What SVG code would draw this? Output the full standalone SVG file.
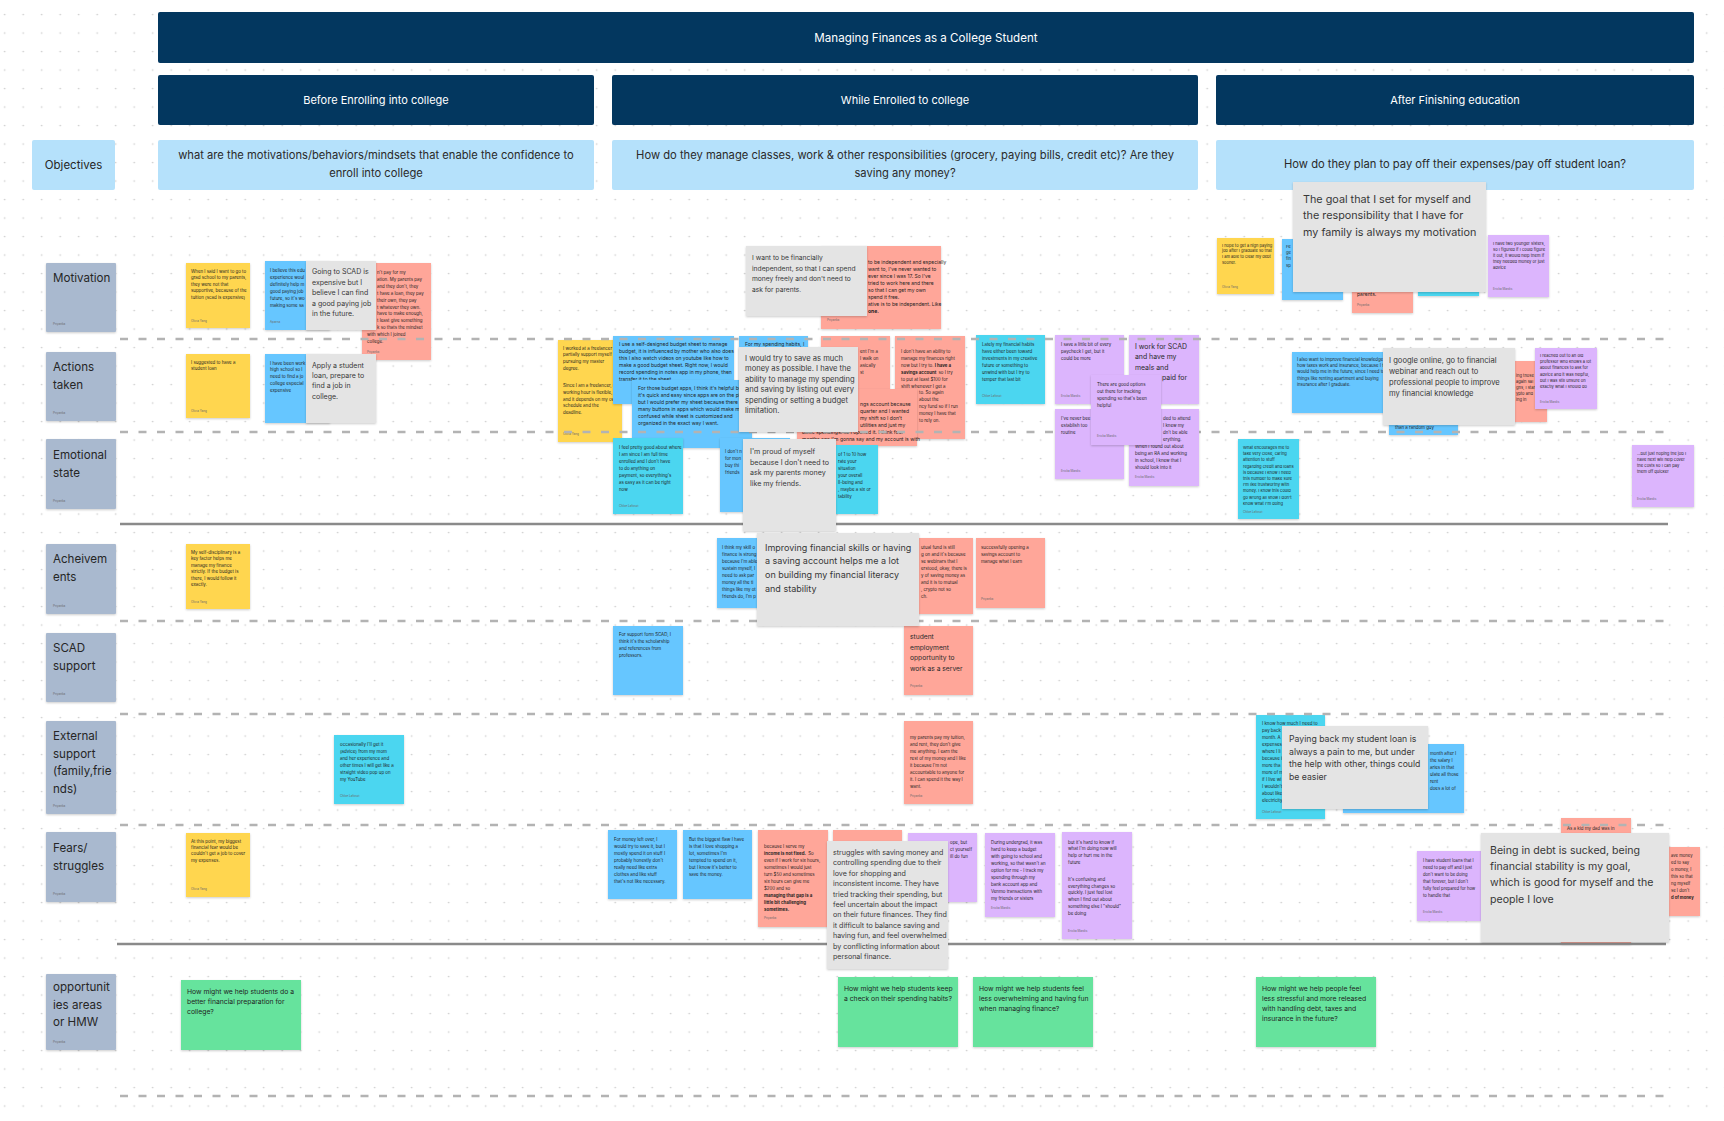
<svg xmlns="http://www.w3.org/2000/svg" width="1724" height="1121" viewBox="0 0 1724 1121">
<defs>
<pattern id="dots" x="-4.55" y="5.25" width="18.5" height="18.5" patternUnits="userSpaceOnUse"><circle cx="9.25" cy="9.25" r="0.85" fill="#cdcdcd"/></pattern>
<filter id="sh" x="-10%" y="-10%" width="120%" height="125%"><feDropShadow dx="0" dy="1" stdDeviation="0.9" flood-color="#000" flood-opacity="0.2"/></filter>
</defs>
<style>
text{font-family:Inter,"Noto Sans",sans-serif}
.nv{fill:#03375f}
.ob{fill:#b5e1fb}
.lb{fill:#a9b9cf}
.st{filter:url(#sh)}
.y{fill:#ffd64f}
.b{fill:#66c6ff}
.c{fill:#4bd6f0}
.r{fill:#ffa699}
.p{fill:#dcb5fd}
.gn{fill:#66e39d}
.gr{fill:#e4e4e4}
.wt{fill:#fff;font-size:11px;text-anchor:middle}
.obt{fill:#2a2a2a;font-size:11.2px;text-anchor:middle}
.lt{fill:#262626;font-size:11.6px}
.s{fill:#1f1f1f;font-size:4.4px}
.m{fill:#1f1f1f;font-size:5px}
.h{fill:#1f1f1f;font-size:6.8px}
.au{fill:#6b6b6b;font-size:3px}
.g{fill:#383838}
.bd{font-weight:700}
.dash{stroke:#b3b3b3;stroke-width:2.3;stroke-dasharray:8 10.5;fill:none}
.sol{stroke:#8a8a8a;stroke-width:2.4;fill:none}
</style>
<rect width="1724" height="1121" fill="#fff"/>
<rect width="1724" height="1121" fill="url(#dots)"/>

<g id="title"><rect class="nv" x="158" y="12" width="1536" height="51" rx="2"/><text class="wt" x="926" y="41.5" style="font-size:11.6px">Managing Finances as a College Student</text></g>
<g id="phase-before"><rect class="nv" x="158" y="75" width="436" height="50" rx="2"/><text class="wt" x="376" y="104">Before Enrolling into college</text></g>
<g id="phase-while"><rect class="nv" x="612" y="75" width="586" height="50" rx="2"/><text class="wt" x="905" y="104">While Enrolled to college</text></g>
<g id="phase-after"><rect class="nv" x="1216" y="75" width="478" height="50" rx="2"/><text class="wt" x="1455" y="104">After Finishing education</text></g>

<g id="obj-label"><rect class="ob" x="32" y="140" width="83" height="50" rx="2"/><text class="lt" x="73.5" y="169" text-anchor="middle" style="font-size:11.5px">Objectives</text></g>
<g id="obj-before"><rect class="ob" x="158" y="140" width="436" height="50" rx="2"/><text class="obt"><tspan x="376" y="158.5">what are the motivations/behaviors/mindsets that enable the confidence to</tspan><tspan x="376" y="177">enroll into college</tspan></text></g>
<g id="obj-while"><rect class="ob" x="612" y="140" width="586" height="50" rx="2"/><text class="obt"><tspan x="905" y="158.5">How do they manage classes, work &amp; other responsibilities (grocery, paying bills, credit etc)? Are they</tspan><tspan x="905" y="177">saving any money?</tspan></text></g>
<g id="obj-after"><rect class="ob" x="1216" y="140" width="478" height="50" rx="2"/><text class="obt" x="1455" y="168">How do they plan to pay off their expenses/pay off student loan?</text></g>

<g id="row-motivation"><rect class="lb st" x="46" y="263" width="70" height="69" rx="1"/><text class="lt" x="53" y="282">Motivation</text><text class="au" x="53" y="325">Priyanka</text></g>
<g id="row-actions"><rect class="lb st" x="46" y="352" width="70" height="69" rx="1"/><text class="lt"><tspan x="53" y="371">Actions</tspan><tspan x="53" y="388.5">taken</tspan></text><text class="au" x="53" y="414">Priyanka</text></g>
<g id="row-emotional"><rect class="lb st" x="46" y="439" width="70" height="70" rx="1"/><text class="lt"><tspan x="53" y="459">Emotional</tspan><tspan x="53" y="476.5">state</tspan></text><text class="au" x="53" y="502">Priyanka</text></g>
<g id="row-achievements"><rect class="lb st" x="46" y="544" width="70" height="70" rx="1"/><text class="lt"><tspan x="53" y="563">Acheivem</tspan><tspan x="53" y="580.5">ents</tspan></text><text class="au" x="53" y="607">Priyanka</text></g>
<g id="row-scad"><rect class="lb st" x="46" y="633" width="70" height="69" rx="1"/><text class="lt"><tspan x="53" y="652">SCAD</tspan><tspan x="53" y="669.5">support</tspan></text><text class="au" x="53" y="695">Priyanka</text></g>
<g id="row-external"><rect class="lb st" x="46" y="721" width="70" height="93" rx="1"/><text class="lt"><tspan x="53" y="740">External</tspan><tspan x="53" y="757.5">support</tspan><tspan x="53" y="775">(family,frie</tspan><tspan x="53" y="792.5">nds)</tspan></text><text class="au" x="53" y="807">Priyanka</text></g>
<g id="row-fears"><rect class="lb st" x="46" y="832" width="70" height="70" rx="1"/><text class="lt"><tspan x="53" y="852">Fears/</tspan><tspan x="53" y="869.5">struggles</tspan></text><text class="au" x="53" y="895">Priyanka</text></g>
<g id="row-opportunities"><rect class="lb st" x="46" y="974" width="70" height="76" rx="1"/><text class="lt"><tspan x="53" y="991">opportunit</tspan><tspan x="53" y="1008.5">ies areas</tspan><tspan x="53" y="1026">or HMW</tspan></text><text class="au" x="53" y="1043">Priyanka</text></g>

<g id="n1"><rect class="st y" x="186" y="263" width="64" height="65"/><text class="s"><tspan x="191" y="273">When I said I want to go to</tspan><tspan x="191" dy="6.4">grad school to my parents,</tspan><tspan x="191" dy="6.4">they were not that</tspan><tspan x="191" dy="6.4">supportive, because of the</tspan><tspan x="191" dy="6.4">tuition (scad is expensive)</tspan></text><text class="au" x="191" y="322">Olivia Yang</text></g>
<g id="n2"><rect class="st b" x="265" y="261" width="65" height="69"/><text class="s"><tspan x="270" y="272">I believe this edu</tspan><tspan x="270" dy="6.9">experience woul</tspan><tspan x="270" dy="6.9">definitely help m</tspan><tspan x="270" dy="6.9">good paying job</tspan><tspan x="270" dy="6.9">future, so it's wo</tspan><tspan x="270" dy="6.9">making some sa</tspan></text><text class="au" x="270" y="323">Aparna</text></g>
<g id="n3"><rect class="st r" x="362" y="263" width="69" height="97"/><text class="s"><tspan x="377" y="274">n't pay for my</tspan><tspan x="377" dy="6.9">ation. My parents pay</tspan><tspan x="377" dy="6.9">and they don't, they</tspan><tspan x="377" dy="6.9">t have a loan, they pay</tspan><tspan x="377" dy="6.9">their own, they pay</tspan><tspan x="377" dy="6.9">t whatever they own.</tspan><tspan x="377" dy="6.9">have to make enough,</tspan><tspan x="377" dy="6.9">t least give something</tspan><tspan x="377" dy="6.9">k so thats the mindset</tspan><tspan x="367" dy="6.9">with which I joined</tspan><tspan x="367" dy="6.9">college.</tspan></text><text class="au" x="367" y="353">Priyanka</text></g>
<g id="n5"><rect class="st y" x="186" y="354" width="64" height="64"/><text class="s"><tspan x="191" y="364">I suggested to have a</tspan><tspan x="191" dy="6.4">student loan</tspan></text><text class="au" x="191" y="412">Olivia Yang</text></g>
<g id="n6"><rect class="st b" x="265" y="354" width="65" height="69"/><text class="s"><tspan x="270" y="364.5">I have been work</tspan><tspan x="270" dy="6.9">high school so I</tspan><tspan x="270" dy="6.9">need to find a jo</tspan><tspan x="270" dy="6.9">college especial</tspan><tspan x="270" dy="6.9">expensive</tspan></text></g>
<g id="n8"><rect class="st y" x="186" y="544" width="64" height="65"/><text class="s"><tspan x="191" y="554">My self-disciplinary is a</tspan><tspan x="191" dy="6.4">key factor helps me</tspan><tspan x="191" dy="6.4">manage my finance</tspan><tspan x="191" dy="6.4">strictly. If the budget is</tspan><tspan x="191" dy="6.4">there, I would follow it</tspan><tspan x="191" dy="6.4">exactly.</tspan></text><text class="au" x="191" y="603">Olivia Yang</text></g>
<g id="n9"><rect class="st c" x="334" y="735" width="70" height="69"/><text class="s"><tspan x="340" y="745.5">occasionally I'll get it</tspan><tspan x="340" dy="7">(advice) from my mom</tspan><tspan x="340" dy="7">and her experience and</tspan><tspan x="340" dy="7">other times I will get like a</tspan><tspan x="340" dy="7">straight video pop up on</tspan><tspan x="340" dy="7">my YouTube</tspan></text><text class="au" x="340" y="797">Chloe Lafosst</text></g>
<g id="n10"><rect class="st y" x="186" y="833" width="64" height="64"/><text class="s"><tspan x="191" y="842.5">At this point, my biggest</tspan><tspan x="191" dy="6.4">financial fear would be</tspan><tspan x="191" dy="6.4">couldn't get a job to cover</tspan><tspan x="191" dy="6.4">my expenses.</tspan></text><text class="au" x="191" y="890">Olivia Yang</text></g>
<g id="n11"><rect class="st gn" x="181" y="980" width="120" height="70"/><text class="h"><tspan x="187" y="994">How might we help students do a</tspan><tspan x="187" dy="10">better financial preparation for</tspan><tspan x="187" dy="10">college?</tspan></text></g>

<g id="n41"><rect class="st r" x="821" y="246" width="120" height="83"/><text class="m"><tspan x="868" y="264">to be independent and especially</tspan><tspan x="868" dy="7">want to, I've never wanted to</tspan><tspan x="868" dy="7">ever since I was 17. So I've</tspan><tspan x="868" dy="7">tried to work here and there</tspan><tspan x="868" dy="7">so that I can get my own</tspan><tspan x="868" dy="7">spend it free.</tspan><tspan x="868" dy="7">ative is to be independent. Like</tspan><tspan x="868" dy="7" class="bd">one.</tspan></text><text class="au" x="827" y="321">Priyanka</text></g>
<g id="n12"><rect class="st y" x="558" y="340" width="64" height="102"/><text class="s"><tspan x="563" y="349.5">I worked at a freelancer t</tspan><tspan x="563" dy="6.8">partially support myself</tspan><tspan x="563" dy="6.8">pursuing my master</tspan><tspan x="563" dy="6.8">degree.</tspan><tspan x="563" dy="17">Since I am a freelancer, my</tspan><tspan x="563" dy="6.8">working hour is flexible,</tspan><tspan x="563" dy="6.8">and it depends on my own</tspan><tspan x="563" dy="6.8">schedule and the</tspan><tspan x="563" dy="6.8">deadline.</tspan></text><text class="au" x="563" y="435">Olivia Yang</text></g>
<g id="n13"><rect class="st b" x="613" y="336" width="121" height="68"/><text class="m"><tspan x="619" y="346">I use a self-designed budget sheet to manage</tspan><tspan x="619" dy="6.9">budget, it is influenced by mother who also does</tspan><tspan x="619" dy="6.9">this I also watch videos on youtube like how to</tspan><tspan x="619" dy="6.9">make a good budget sheet.  Right now, I would</tspan><tspan x="619" dy="6.9">record spending in notes app in my phone, then</tspan><tspan x="619" dy="6.9">transfer it to the sheet</tspan></text></g>
<g id="n14"><rect class="st b" x="632" y="380" width="120" height="68"/><text class="m"><tspan x="638" y="389.5">For those budget apps, I think it's helpful because</tspan><tspan x="638" dy="7">it's quick and easy since apps are on the phone,</tspan><tspan x="638" dy="7">but I would prefer my sheet because there are too</tspan><tspan x="638" dy="7">many buttons in apps which would make me</tspan><tspan x="638" dy="7">confused while sheet is customized and</tspan><tspan x="638" dy="7">organized in the exact way I want.</tspan></text></g>
<g id="n15"><rect class="st b" x="739" y="336" width="69" height="62"/><text class="m" x="745" y="345.5">For my spending habits, I</text></g>
<g id="n17"><rect class="st r" x="821" y="336" width="69" height="69"/><text class="s"><tspan x="860" y="353">ent I'm a</tspan><tspan x="860" dy="6.9">I walk on</tspan><tspan x="860" dy="6.9">asically</tspan><tspan x="860" dy="6.9">st</tspan></text></g>
<g id="n18"><rect class="st r" x="895" y="336" width="70" height="103"/><text class="s"><tspan x="901" y="353">I don't have an ability to</tspan><tspan x="901" dy="6.9">manage my finances right</tspan><tspan x="901" dy="6.9">now but I try to. <tspan class="bd">I have a</tspan></tspan><tspan x="901" dy="6.9" class="bd">savings account</tspan><tspan dx="1"> so I try</tspan><tspan x="901" dy="6.9">to put at least $100 for</tspan><tspan x="901" dy="6.9">shift whenever I get a</tspan><tspan x="919" dy="6.9">to. So again</tspan><tspan x="919" dy="6.9">about the</tspan><tspan x="919" dy="6.9">ncy fund so if I run</tspan><tspan x="919" dy="6.9">money I have that</tspan><tspan x="919" dy="6.9">to rely on.</tspan></text></g>
<g id="n19"><rect class="st r" x="797" y="389" width="120" height="57"/><text class="m"><tspan x="860" y="406">ngs account because</tspan><tspan x="860" dy="7">quarter and I wanted</tspan><tspan x="860" dy="7">my shift so I don't</tspan><tspan x="860" dy="7">utilities and just my</tspan><tspan x="802" dy="7">basic spendings. so I opened it. I think four</tspan><tspan x="802" dy="7">months ago I'm gonna say and my account is with</tspan></text></g>
<g id="n20"><rect class="st c" x="613" y="438" width="70" height="76"/><text class="s"><tspan x="619" y="448.5">I feel pretty good about where</tspan><tspan x="619" dy="7">I am since I am full time</tspan><tspan x="619" dy="7">enrolled and I don't have</tspan><tspan x="619" dy="7">to do anything on</tspan><tspan x="619" dy="7">payment, so everything's</tspan><tspan x="619" dy="7">as easy as it can be right</tspan><tspan x="619" dy="7">now</tspan></text><text class="au" x="619" y="507">Chloe Lafosst</text></g>
<g id="n21"><rect class="st b" x="720" y="438" width="70" height="74"/><text class="s"><tspan x="725" y="452.5">I don't n</tspan><tspan x="725" dy="7">for mon</tspan><tspan x="725" dy="7">buy thi</tspan><tspan x="725" dy="7">friends</tspan></text></g>
<g id="n23"><rect class="st c" x="809" y="445" width="69" height="69"/><text class="s"><tspan x="838" y="456">of 1 to 10 how</tspan><tspan x="838" dy="7">rate your</tspan><tspan x="838" dy="7">situation</tspan><tspan x="838" dy="7">your overall</tspan><tspan x="838" dy="7">ll-being and</tspan><tspan x="838" dy="7">, maybe a six or</tspan><tspan x="838" dy="7">tability</tspan></text></g>
<g id="n24"><rect class="st b" x="717" y="538" width="70" height="70"/><text class="s"><tspan x="722" y="549">I think my skill o</tspan><tspan x="722" dy="7">finance is strong</tspan><tspan x="722" dy="7">because I'm able</tspan><tspan x="722" dy="7">sustain myself, I</tspan><tspan x="722" dy="7">need to ask par</tspan><tspan x="722" dy="7">money all the ti</tspan><tspan x="722" dy="7">things like my ot</tspan><tspan x="722" dy="7">friends do, I'm p</tspan></text></g>
<g id="n26"><rect class="st r" x="904" y="538" width="69" height="76"/><text class="s"><tspan x="921" y="549">utual fund is still</tspan><tspan x="921" dy="7">g on and it's because</tspan><tspan x="921" dy="7">se webinars that I</tspan><tspan x="921" dy="7">erstood, okay, there is</tspan><tspan x="921" dy="7">y of saving money as</tspan><tspan x="921" dy="7">and it is to mutual</tspan><tspan x="921" dy="7">, crypto not so</tspan><tspan x="921" dy="7">ch.</tspan></text></g>
<g id="n27"><rect class="st r" x="976" y="538" width="69" height="70"/><text class="s"><tspan x="981" y="549">successfully opening a</tspan><tspan x="981" dy="7">savings account to</tspan><tspan x="981" dy="7">manage what I earn</tspan></text><text class="au" x="981" y="600">Priyanka</text></g>
<g id="n28"><rect class="st b" x="613" y="626" width="70" height="69"/><text class="s"><tspan x="619" y="636">For support form SCAD, I</tspan><tspan x="619" dy="7">think it's the scholarship</tspan><tspan x="619" dy="7">and references from</tspan><tspan x="619" dy="7">professors.</tspan></text></g>
<g id="n29"><rect class="st r" x="904" y="626" width="69" height="69"/><text style="font-size:6.7px;fill:#2a2a2a"><tspan x="910" y="639">student</tspan><tspan x="910" dy="10.5">employment</tspan><tspan x="910" dy="10.5">opportunity to</tspan><tspan x="910" dy="10.5">work as a server</tspan></text><text class="au" x="910" y="687">Priyanka</text></g>
<g id="n30"><rect class="st r" x="904" y="721" width="69" height="83"/><text class="s"><tspan x="910" y="738.5">my parents pay my tuition,</tspan><tspan x="910" dy="7">and rent, they don't give</tspan><tspan x="910" dy="7">me anything. I earn the</tspan><tspan x="910" dy="7">rest of my money and I like</tspan><tspan x="910" dy="7">it because I'm not</tspan><tspan x="910" dy="7">accountable to anyone for</tspan><tspan x="910" dy="7">it. I can spend it the way I</tspan><tspan x="910" dy="7">want.</tspan></text><text class="au" x="910" y="797">Priyanka</text></g>
<g id="n31"><rect class="st b" x="608" y="830" width="69" height="69"/><text class="s"><tspan x="614" y="840.5">For money left over, I</tspan><tspan x="614" dy="7">would try to save it, but I</tspan><tspan x="614" dy="7">mostly spend it on stuff I</tspan><tspan x="614" dy="7">probably honestly don't</tspan><tspan x="614" dy="7">really need like extra</tspan><tspan x="614" dy="7">clothes and like stuff</tspan><tspan x="614" dy="7">that's not like necessary.</tspan></text></g>
<g id="n32"><rect class="st b" x="683" y="830" width="69" height="69"/><text class="s"><tspan x="689" y="840.5">But the biggest flaw I have</tspan><tspan x="689" dy="7">is that I love shopping a</tspan><tspan x="689" dy="7">lot,  sometimes I'm</tspan><tspan x="689" dy="7">tempted to spend on it,</tspan><tspan x="689" dy="7">but I know it's better to</tspan><tspan x="689" dy="7">save the money.</tspan></text></g>
<g id="n33"><rect class="st r" x="758" y="830" width="70" height="97"/><text class="s"><tspan x="764" y="847.5">because I serve my</tspan><tspan x="764" dy="7" class="bd">income is not fixed.</tspan><tspan dx="1"> So</tspan><tspan x="764" dy="7">even if I work for six hours,</tspan><tspan x="764" dy="7">sometimes I would just</tspan><tspan x="764" dy="7">turn $50 and sometimes</tspan><tspan x="764" dy="7">six hours can give me</tspan><tspan x="764" dy="7">$200 and so</tspan><tspan x="764" dy="7" class="bd">managing that gap is a</tspan><tspan x="764" dy="7" class="bd">little bit challenging</tspan><tspan x="764" dy="7" class="bd">sometimes.</tspan></text><text class="au" x="764" y="919">Priyanka</text></g>
<g id="n34"><rect class="st r" x="833" y="830" width="69" height="69"/></g>
<g id="n36"><rect class="st p" x="908" y="833" width="69" height="69"/><text class="s"><tspan x="950" y="843.5">ope, but</tspan><tspan x="950" dy="7">ct yourself</tspan><tspan x="950" dy="7">ill do fun</tspan></text></g>
<g id="n37"><rect class="st p" x="985" y="833" width="70" height="84"/><text class="s"><tspan x="991" y="843.5">During undergrad, it was</tspan><tspan x="991" dy="7">hard to keep a budget</tspan><tspan x="991" dy="7">with going to school and</tspan><tspan x="991" dy="7">working, so that wasn't an</tspan><tspan x="991" dy="7">option for me - I track my</tspan><tspan x="991" dy="7">spending through my</tspan><tspan x="991" dy="7">bank account app and</tspan><tspan x="991" dy="7">Venmo transactions with</tspan><tspan x="991" dy="7">my friends or sisters</tspan></text><text class="au" x="991" y="909">Ericka Mardis</text></g>
<g id="n38"><rect class="st p" x="1062" y="832" width="70" height="107"/><text class="s"><tspan x="1068" y="843.5">but it's hard to know if</tspan><tspan x="1068" dy="6.9">what I'm doing now will</tspan><tspan x="1068" dy="6.9">help or hurt me in the</tspan><tspan x="1068" dy="6.9">future</tspan><tspan x="1068" dy="16.4">It's confusing and</tspan><tspan x="1068" dy="6.9">everything changes so</tspan><tspan x="1068" dy="6.9">quickly. I just feel lost</tspan><tspan x="1068" dy="6.9">when I find out about</tspan><tspan x="1068" dy="6.9">something else I "should"</tspan><tspan x="1068" dy="6.9">be doing</tspan></text><text class="au" x="1068" y="932">Ericka Mardis</text></g>
<g id="n39"><rect class="st gn" x="838" y="977" width="120" height="70"/><text class="h"><tspan x="844" y="991">How might we help students keep</tspan><tspan x="844" dy="10">a check on their spending habits?</tspan></text></g>
<g id="n40"><rect class="st gn" x="973" y="977" width="120" height="70"/><text class="h"><tspan x="979" y="991">How might we help students feel</tspan><tspan x="979" dy="10">less overwhelming and having fun</tspan><tspan x="979" dy="10">when managing finance?</tspan></text></g>
<g id="n43"><rect class="st c" x="976" y="335" width="69" height="69"/><text class="s"><tspan x="982" y="346">Lately my financial habits</tspan><tspan x="982" dy="7">have either been toward</tspan><tspan x="982" dy="7">investments in my creative</tspan><tspan x="982" dy="7">future or something to</tspan><tspan x="982" dy="7">unwind with but I try to</tspan><tspan x="982" dy="7">temper that last bit</tspan></text><text class="au" x="982" y="397">Chloe Lafosst</text></g>
<g id="n44"><rect class="st p" x="1055" y="335" width="69" height="69"/><text class="s"><tspan x="1061" y="346">I save a little bit of every</tspan><tspan x="1061" dy="7">paycheck I get, but it</tspan><tspan x="1061" dy="7">could be more</tspan></text><text class="au" x="1061" y="397">Ericka Mardis</text></g>
<g id="n45"><rect class="st p" x="1129" y="335" width="70" height="69"/><text style="font-size:6.9px;fill:#2a2a2a"><tspan x="1135" y="348.5">I work for SCAD</tspan><tspan x="1135" dy="10.5">and have my</tspan><tspan x="1135" dy="10.5">meals and</tspan><tspan x="1162" dy="10.5">paid for</tspan></text></g>
<g id="n49"><rect class="st c" x="1238" y="439" width="61" height="80"/><text class="s" style="font-size:4.1px"><tspan x="1243" y="449">What encourages me to</tspan><tspan x="1243" dy="6.2">take very close, caring</tspan><tspan x="1243" dy="6.2">attention to stuff</tspan><tspan x="1243" dy="6.2">regarding credit and loans</tspan><tspan x="1243" dy="6.2">is because I know I need</tspan><tspan x="1243" dy="6.2">this number to make sure</tspan><tspan x="1243" dy="6.2">I'm like trustworthy with</tspan><tspan x="1243" dy="6.2">money. I know this could</tspan><tspan x="1243" dy="6.2">go wrong all show I don't</tspan><tspan x="1243" dy="6.2">know what I'm doing</tspan></text><text class="au" x="1243" y="513">Chloe Lafosst</text></g>
<g id="n50"><rect class="st p" x="1632" y="445" width="62" height="62"/><text class="s" style="font-size:4.1px"><tspan x="1637" y="454.5">...but just hoping the job I</tspan><tspan x="1637" dy="6.1">have next will help cover</tspan><tspan x="1637" dy="6.1">the costs so I can pay</tspan><tspan x="1637" dy="6.1">them off quicker</tspan></text><text class="au" x="1637" y="500">Ericka Mardis</text></g>
<g id="n51"><rect class="st y" x="1217" y="238" width="57" height="56"/><text class="s" style="font-size:4px"><tspan x="1222" y="246.5">I hope to get a high paying</tspan><tspan x="1222" dy="5.9">job after I graduate so that</tspan><tspan x="1222" dy="5.9">I am able to clear my debt</tspan><tspan x="1222" dy="5.9">sooner.</tspan></text><text class="au" x="1222" y="288">Olivia Yang</text></g>
<g id="n52"><rect class="st b" x="1282" y="239" width="61" height="61"/><text class="s" style="font-size:4.1px"><tspan x="1286" y="248">Fe</tspan><tspan x="1286" dy="6.2">ge</tspan><tspan x="1286" dy="6.2">fin</tspan><tspan x="1286" dy="6.2">sp</tspan></text></g>
<g id="n53"><rect class="st r" x="1352" y="250" width="61" height="63"/><text class="s" style="font-size:5px"><tspan x="1357" y="295.5">parents.</tspan></text><text class="au" x="1357" y="306">Priyanka</text></g>
<g id="n54"><rect class="st c" x="1418" y="240" width="61" height="56"/></g>
<g id="n55"><rect class="st p" x="1488" y="235" width="61" height="62"/><text class="s" style="font-size:4.1px"><tspan x="1493" y="244.5">I have two younger sisters,</tspan><tspan x="1493" dy="6.2">so I figured if I could figure</tspan><tspan x="1493" dy="6.2">it out, it would help them if</tspan><tspan x="1493" dy="6.2">they needed money or just</tspan><tspan x="1493" dy="6.2">advice</tspan></text><text class="au" x="1493" y="290">Ericka Mardis</text></g>
<g id="n56"><rect class="st b" x="1292" y="352" width="122" height="61"/><text class="s" style="font-size:4.3px"><tspan x="1297" y="361">I also want to improve financial knowledge lik</tspan><tspan x="1297" dy="6.2">how taxes work and insurance, because I thi</tspan><tspan x="1297" dy="6.2">would help me in the future, since I need to d</tspan><tspan x="1297" dy="6.2">things like renting apartment and buying</tspan><tspan x="1297" dy="6.2">insurance after I graduate.</tspan></text></g>
<g id="n57"><rect class="st b" x="1389" y="370" width="69" height="65"/><text class="s" x="1395" y="429">than a random guy</text></g>
<g id="n59"><rect class="st r" x="1477" y="361" width="70" height="61"/><text class="s" style="font-size:4.1px"><tspan x="1516" y="376.5">ing those</tspan><tspan x="1516" dy="6.1">again sal</tspan><tspan x="1516" dy="6.1">ghs, I start</tspan><tspan x="1516" dy="6.1">ypto and</tspan><tspan x="1516" dy="6.1">ing in</tspan></text></g>
<g id="n60"><rect class="st p" x="1535" y="348" width="62" height="61"/><text class="s" style="font-size:4.1px"><tspan x="1540" y="357">I reached out to an old</tspan><tspan x="1540" dy="6.2">professor who knows a lot</tspan><tspan x="1540" dy="6.2">about finances to ask for</tspan><tspan x="1540" dy="6.2">advice and it was helpful,</tspan><tspan x="1540" dy="6.2">but I was still unsure on</tspan><tspan x="1540" dy="6.2">exactly what I should do</tspan></text><text class="au" x="1540" y="403">Ericka Mardis</text></g>
<g id="n61"><rect class="st c" x="1256" y="715" width="69" height="104"/><text class="s"><tspan x="1262" y="725">I know how much I need to</tspan><tspan x="1262" dy="7">pay back</tspan><tspan x="1262" dy="7">month. A</tspan><tspan x="1262" dy="7">expenses</tspan><tspan x="1262" dy="7">where I li</tspan><tspan x="1262" dy="7">because i</tspan><tspan x="1262" dy="7">more tha</tspan><tspan x="1262" dy="7">more of m</tspan><tspan x="1262" dy="7">if I live wi</tspan><tspan x="1262" dy="7">I wouldn't</tspan><tspan x="1262" dy="7">about like</tspan><tspan x="1262" dy="7">electricity.</tspan></text><text class="au" x="1262" y="813">Chloe Lafosst</text></g>
<g id="n62"><rect class="st b" x="1343" y="744" width="121" height="69"/><text class="s"><tspan x="1430" y="755">month after I</tspan><tspan x="1430" dy="7">the salary I</tspan><tspan x="1430" dy="7">aries in that</tspan><tspan x="1430" dy="7">ulate all those</tspan><tspan x="1430" dy="7">rent</tspan><tspan x="1430" dy="7">does a lot of</tspan></text></g>
<g id="n64"><rect class="st r" x="1561" y="818" width="70" height="126"/><text class="s" x="1567" y="829.5">As a kid my dad was in</text></g>
<g id="n65"><rect class="st p" x="1417" y="851" width="64" height="70"/><text class="s" style="font-size:4.2px"><tspan x="1423" y="861.5">I have student loans that I</tspan><tspan x="1423" dy="7">need to pay off and I just</tspan><tspan x="1423" dy="7">don't want to be doing</tspan><tspan x="1423" dy="7">that forever, but I don't</tspan><tspan x="1423" dy="7">fully feel prepared for how</tspan><tspan x="1423" dy="7">to handle that</tspan></text><text class="au" x="1423" y="913">Ericka Mardis</text></g>
<g id="n67"><rect class="st r" x="1630" y="847" width="70" height="69"/><text class="s" style="font-size:4.2px"><tspan x="1671" y="857">ave money</tspan><tspan x="1671" dy="7">ed to say</tspan><tspan x="1671" dy="7">o money, I</tspan><tspan x="1671" dy="7">this so that</tspan><tspan x="1671" dy="7">ng myself</tspan><tspan x="1671" dy="7">se I don't</tspan><tspan x="1671" dy="7" class="bd">d of money</tspan></text></g>

<g id="connectors">
<line class="dash" x1="120" y1="339" x2="1668" y2="339"/>
<line class="dash" x1="120" y1="432" x2="1668" y2="432"/>
<line class="sol" x1="120" y1="524" x2="1668" y2="524"/>
<line class="dash" x1="120" y1="621" x2="1668" y2="621"/>
<line class="dash" x1="120" y1="714" x2="1668" y2="714"/>
<line class="dash" x1="120" y1="825" x2="1668" y2="825"/>
<line class="sol" x1="117" y1="944" x2="1666" y2="944"/>
<line class="dash" x1="120" y1="1096" x2="1668" y2="1096"/>
</g>

<g id="n46"><rect class="st p" x="1055" y="409" width="69" height="70"/><text class="s"><tspan x="1061" y="420">I've never bee</tspan><tspan x="1061" dy="7">establish too</tspan><tspan x="1061" dy="7">routine</tspan></text><text class="au" x="1061" y="472">Ericka Mardis</text></g>
<g id="n47"><rect class="st p" x="1129" y="409" width="70" height="77"/><text class="s"><tspan x="1163" y="420">ded to attend</tspan><tspan x="1163" dy="7">I knew my</tspan><tspan x="1163" dy="7">dn't be able</tspan><tspan x="1163" dy="7">erything.</tspan><tspan x="1135" dy="7">When I found out about</tspan><tspan x="1135" dy="7">being an RA and working</tspan><tspan x="1135" dy="7">in school, I knew that I</tspan><tspan x="1135" dy="7">should look into it</tspan></text><text class="au" x="1135" y="478">Ericka Mardis</text></g>
<g id="n48"><rect class="st p" x="1091" y="375" width="70" height="70"/><text class="s"><tspan x="1097" y="386">There are good options</tspan><tspan x="1097" dy="7">out there for tracking</tspan><tspan x="1097" dy="7">spending so that's been</tspan><tspan x="1097" dy="7">helpful</tspan></text><text class="au" x="1097" y="437">Ericka Mardis</text></g>

<g id="g-going"><rect class="st gr" x="306" y="261" width="70" height="69"/><text class="g" style="font-size:7px"><tspan x="312" y="274">Going to SCAD is</tspan><tspan x="312" dy="10.5">expensive but I</tspan><tspan x="312" dy="10.5">believe I can find</tspan><tspan x="312" dy="10.5">a good paying job</tspan><tspan x="312" dy="10.5">in the future.</tspan></text></g>
<g id="g-apply"><rect class="st gr" x="306" y="354" width="70" height="69"/><text class="g" style="font-size:7px"><tspan x="312" y="367.5">Apply a student</tspan><tspan x="312" dy="10.4">loan, prepare to</tspan><tspan x="312" dy="10.4">find a job in</tspan><tspan x="312" dy="10.4">college.</tspan></text></g>
<g id="g-independent"><rect class="st gr" x="746" y="246" width="121" height="70"/><text class="g" style="font-size:6.7px"><tspan x="752" y="260">I want to be financially</tspan><tspan x="752" dy="10.5">independent, so that I can spend</tspan><tspan x="752" dy="10.5">money freely and don't need to</tspan><tspan x="752" dy="10.5">ask for parents.</tspan></text></g>
<g id="g-save"><rect class="st gr" x="739" y="347" width="119" height="85"/><text class="g" style="font-size:7.6px"><tspan x="745" y="361">I would try to save as much</tspan><tspan x="745" dy="10.45">money as possible. I have the</tspan><tspan x="745" dy="10.45">ability to manage my spending</tspan><tspan x="745" dy="10.45">and saving by listing out every</tspan><tspan x="745" dy="10.45">spending or setting a budget</tspan><tspan x="745" dy="10.45">limitation.</tspan></text></g>
<g id="g-proud"><rect class="st gr" x="743" y="439" width="93" height="92"/><text class="g" style="font-size:7.1px"><tspan x="750" y="454">I'm proud of myself</tspan><tspan x="750" dy="10.6">because I don't need to</tspan><tspan x="750" dy="10.6">ask my parents money</tspan><tspan x="750" dy="10.6">like my friends.</tspan></text></g>
<g id="g-improving"><rect class="st gr" x="757" y="533" width="162" height="93"/><text class="g" style="font-size:9px"><tspan x="765" y="550.5">Improving financial skills or having</tspan><tspan x="765" dy="13.9">a saving account helps me a lot</tspan><tspan x="765" dy="13.9">on building my financial literacy</tspan><tspan x="765" dy="13.9">and stability</tspan></text></g>
<g id="g-struggles"><rect class="st gr" x="827" y="841" width="121" height="128"/><text class="g" style="font-size:7.1px"><tspan x="833" y="855">struggles with saving money and</tspan><tspan x="833" dy="10.4">controlling spending due to their</tspan><tspan x="833" dy="10.4">love for shopping and</tspan><tspan x="833" dy="10.4">inconsistent income. They have</tspan><tspan x="833" dy="10.4">tried tracking their spending, but</tspan><tspan x="833" dy="10.4">feel uncertain about the impact</tspan><tspan x="833" dy="10.4">on their future finances. They find</tspan><tspan x="833" dy="10.4">it difficult to balance saving and</tspan><tspan x="833" dy="10.4">having fun, and feel overwhelmed</tspan><tspan x="833" dy="10.4">by conflicting information about</tspan><tspan x="833" dy="10.4">personal finance.</tspan></text></g>
<g id="g-goal"><rect class="st gr" x="1293" y="182" width="193" height="110"/><text class="g" style="font-size:10.8px"><tspan x="1303" y="202.5">The goal that I set for myself and</tspan><tspan x="1303" dy="16.8">the responsibility that I have for</tspan><tspan x="1303" dy="16.8">my family is always my motivation</tspan></text></g>
<g id="g-google"><rect class="st gr" x="1383" y="348" width="132" height="77"/><text class="g" style="font-size:7.6px"><tspan x="1389" y="362.5">I google online, go to financial</tspan><tspan x="1389" dy="11.3">webinar and reach out to</tspan><tspan x="1389" dy="11.3">professional people to improve</tspan><tspan x="1389" dy="11.3">my financial knowledge</tspan></text></g>
<g id="g-paying"><rect class="st gr" x="1282" y="726" width="146" height="83"/><text class="g" style="font-size:8.7px"><tspan x="1289" y="742">Paying back my student loan is</tspan><tspan x="1289" dy="12.5">always a pain to me, but under</tspan><tspan x="1289" dy="12.5">the help with other, things could</tspan><tspan x="1289" dy="12.5">be easier</tspan></text></g>
<g id="g-debt"><rect class="st gr" x="1481" y="833" width="188" height="109"/><text class="g" style="font-size:10.6px"><tspan x="1490" y="853.5">Being in debt is sucked, being</tspan><tspan x="1490" dy="16.4">financial stability is my goal,</tspan><tspan x="1490" dy="16.4">which is good for myself and the</tspan><tspan x="1490" dy="16.4">people I love</tspan></text></g>
<g id="n66"><rect class="st gn" x="1256" y="977" width="120" height="70"/><text class="h"><tspan x="1262" y="991">How might we help people feel</tspan><tspan x="1262" dy="10">less stressful and more released</tspan><tspan x="1262" dy="10">with handling debt, taxes and</tspan><tspan x="1262" dy="10">insurance in the future?</tspan></text></g>
</svg>
